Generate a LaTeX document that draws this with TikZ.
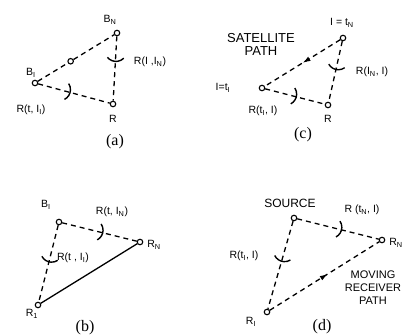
\documentclass[tikz,border=0pt]{standalone}
\usepackage{fontspec}
\setmainfont{Liberation Sans}
\newfontfamily\capfont{Liberation Serif}
\usetikzlibrary{calc,decorations.markings,arrows.meta}
\tikzset{
 pt/.style={circle,draw,fill=white,inner sep=0pt,minimum size=5.5pt,line width=1.1pt},
 dl/.style={dash pattern=on 5pt off 4pt, line width=1.3pt},
 sl/.style={line width=1.3pt},
 lbl/.style={font=\fontsize{10.5}{11}\selectfont, inner sep=0pt},
 biglbl/.style={font=\fontsize{13}{13}\selectfont, inner sep=0pt, align=center},
 captext/.style={font=\capfont\fontsize{16}{16}\selectfont, inner sep=0pt},
 rarc/.style={line width=1.4pt},
 midarrow/.style={postaction={decorate}, decoration={markings, mark=at position #1 with {\arrow{Latex[length=8pt,width=5pt]}}}},
}
\newcommand\rangearc[3]{%
 \draw[rarc] let \p1=($(#2)-(#1)$), \n1={atan2(\y1,\x1)}, \p2=($(#1)!#3!(#2)$), \p3=($(\p2)!11pt!(#1)$) in
  (\p3) ++(\n1-48:11pt) arc[start angle=\n1-48, end angle=\n1+48, radius=11pt];}
\begin{document}
\begin{tikzpicture}[x=1pt,y=-1pt]
\useasboundingbox (0,0) rectangle (405,335);
% (a)
\node[pt] (aBN) at (117,33) {};
\node[pt] (aB1) at (35,83) {};
\node[pt] (aR) at (113,104) {};
\path (aB1) -- (aBN) node[pt,pos=0.43] (aM) {};
\draw[dl] (aB1) -- (aM);
\draw[dl] (aM) -- (aBN);
\draw[dl] (aBN) -- (aR);
\draw[dl] (aB1) -- (aR);
\rangearc{aBN}{aR}{0.4}
\rangearc{aB1}{aR}{0.45}
\node[lbl] at (110,20) {B\textsubscript{N}};
\node[lbl] at (31,73) {B\textsubscript{I}};
\node[lbl] at (150,62) {R(I ,I\textsubscript{N})};
\node[lbl] at (31,110) {R(t, I\textsubscript{I})};
\node[lbl] at (113,119) {R};
\node[captext] at (115,142) {(a)};
% (c)
\node[pt] (ctN) at (343,38) {};
\node[pt] (ct1) at (262,88) {};
\node[pt] (cR) at (328,105) {};
\draw[dl, midarrow=0.5] (ctN) -- (ct1);
\draw[dl] (ctN) -- (cR);
\draw[dl] (ct1) -- (cR);
\rangearc{ctN}{cR}{0.47}
\rangearc{ct1}{cR}{0.52}
\node[biglbl] at (261,44) {SATELLITE\\PATH};
\node[lbl] at (342,23) {I = t\textsubscript{N}};
\node[lbl] at (223,88) {I=t\textsubscript{I}};
\node[lbl] at (372,72) {R(I\textsubscript{N}, I)};
\node[lbl] at (263,111) {R(t\textsubscript{I}, I)};
\node[lbl] at (328,119) {R};
\node[captext] at (303,135) {(c)};
% (b)
\node[pt] (bB1) at (59,222) {};
\node[pt] (bRN) at (140,242) {};
\node[pt] (bR1) at (38,305) {};
\draw[dl] (bB1) -- (bRN);
\draw[dl] (bB1) -- (bR1);
\draw[sl] (bR1) -- (bRN);
\rangearc{bB1}{bRN}{0.54}
\rangearc{bB1}{bR1}{0.48}
\node[lbl] at (46,205) {B\textsubscript{I}};
\node[lbl] at (112,212) {R(t, I\textsubscript{N})};
\node[lbl] at (154,245) {R\textsubscript{N}};
\node[lbl] at (73,258) {R(t , I\textsubscript{I})};
\node[lbl] at (32,314) {R\textsubscript{1}};
\node[captext] at (85,328) {(b)};
% (d)
\node[pt] (dS) at (294,218) {};
\node[pt] (dRN) at (382,240) {};
\node[pt] (dR1) at (267,312) {};
\draw[dl] (dS) -- (dRN);
\draw[dl] (dS) -- (dR1);
\draw[dl, midarrow=0.53] (dR1) -- (dRN);
\rangearc{dS}{dRN}{0.54}
\rangearc{dS}{dR1}{0.46}
\node[font=\fontsize{12}{12}\selectfont, inner sep=0pt] at (290,203) {SOURCE};
\node[lbl] at (362,210) {R (t\textsubscript{N}, I)};
\node[lbl] at (396,243) {R\textsubscript{N}};
\node[lbl] at (244,256) {R(t\textsubscript{I}, I)};
\node[font=\fontsize{11}{13}\selectfont, inner sep=0pt, align=center] at (373,288) {MOVING\\RECEIVER\\PATH};
\node[lbl] at (251,322) {R\textsubscript{I}};
\node[captext] at (322,327) {(d)};
\end{tikzpicture}
\end{document}
